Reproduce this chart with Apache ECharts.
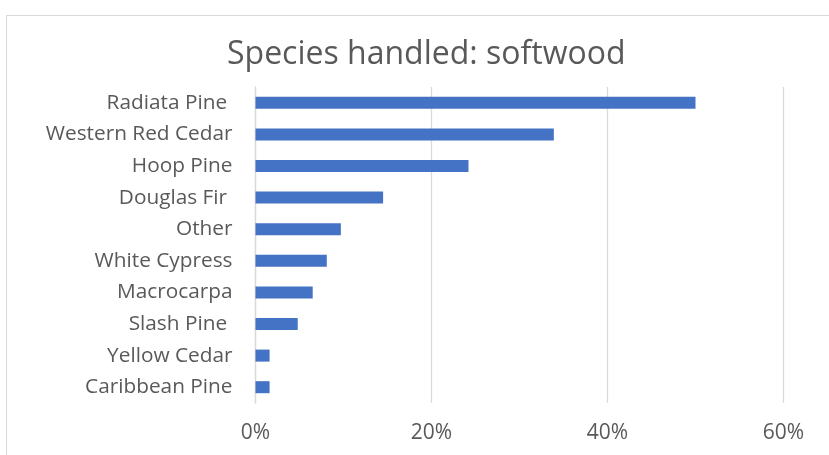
<!DOCTYPE html>
<html>
<head>
<meta charset="utf-8">
<script src="https://cdn.jsdelivr.net/npm/echarts@6/dist/echarts.min.js"></script>
<style>
  html, body { margin: 0; padding: 0; background: #fff; }
  #chart { width: 829px; height: 455px; }
</style>
</head>
<body>
<div id="chart"></div>
<script>
// Softwood species handled, share of respondents
const categories = [
  'Radiata Pine ', 'Western Red Cedar', 'Hoop Pine', 'Douglas Fir ', 'Other',
  'White Cypress', 'Macrocarpa', 'Slash Pine ', 'Yellow Cedar', 'Caribbean Pine'
];
const shares = [50.0, 33.9, 24.2, 14.5, 9.7, 8.1, 6.5, 4.8, 1.6, 1.6];
const xTicks = [0, 20, 40, 60];

const chart = echarts.init(document.getElementById('chart'), null, { renderer: 'canvas' });
const fontFamily = '"Open Sans", "Noto Sans", sans-serif';

chart.setOption({
  animation: false,
  backgroundColor: '#ffffff',
  title: {
    text: 'Species handled: softwood',
    left: 222,
    top: 34,
    textStyle: { fontFamily, fontSize: 32, fontWeight: 'normal', color: '#595959' }
  },
  graphic: [{
    type: 'rect',
    shape: { x: 6.5, y: 15.5, width: 830, height: 450 },
    style: { fill: 'none', stroke: '#d9d9d9', lineWidth: 1 },
    silent: true
  }],
  grid: { left: 255.5, right: 45.5, top: 87, bottom: 52, containLabel: false },
  xAxis: {
    type: 'value',
    min: xTicks[0],
    max: xTicks[xTicks.length - 1],
    interval: 20,
    axisLine: { show: false },
    axisTick: { show: false },
    splitLine: { show: true, lineStyle: { color: '#d9d9d9', width: 1.3 } },
    axisLabel: {
      formatter: v => v + '%',
      color: '#595959',
      fontFamily,
      fontSize: 21,
      margin: 20
    }
  },
  yAxis: {
    type: 'category',
    data: categories,
    inverse: true,
    axisLine: { show: true, lineStyle: { color: '#d9d9d9', width: 1.3 } },
    axisTick: { show: false },
    axisLabel: { color: '#595959', fontFamily, fontSize: 20.8, margin: 23 }
  },
  series: [{
    type: 'bar',
    data: shares,
    barCategoryGap: '62%',
    itemStyle: { color: '#4472c4' }
  }]
});
</script>
</body>
</html>
